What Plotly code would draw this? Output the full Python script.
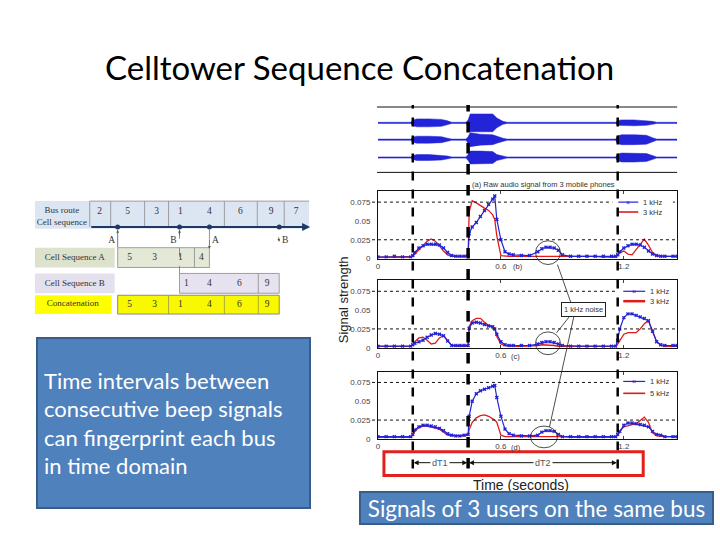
import plotly.graph_objects as go

W, H = 720, 540
def px(x): return x / W
def py(y): return 1 - y / H

# ---------------- data ----------------
time_s = [0.00, 0.04, 0.08, 0.12, 0.16,
          0.17, 0.18, 0.20, 0.22, 0.24, 0.26, 0.28, 0.30, 0.32, 0.34, 0.36, 0.38, 0.40, 0.42, 0.44,
          0.445, 0.46, 0.48, 0.50, 0.52, 0.54, 0.56, 0.57, 0.58, 0.60, 0.62, 0.64, 0.66,
          0.70, 0.74, 0.78, 0.80, 0.82, 0.84, 0.86, 0.88, 0.90, 0.94, 0.98, 1.02, 1.06, 1.10, 1.14, 1.16,
          1.17, 1.18, 1.20, 1.22, 1.24, 1.26, 1.28, 1.30, 1.32, 1.34, 1.36, 1.38, 1.40, 1.44, 1.46]

b_1khz = [0.002, 0.002, 0.003, 0.002, 0.002,
          0.004, 0.008, 0.014, 0.017, 0.019, 0.019, 0.019, 0.018, 0.014, 0.008, 0.004, 0.003, 0.003, 0.003, 0.004,
          0.033, 0.042, 0.048, 0.056, 0.064, 0.072, 0.079, 0.083, 0.052, 0.025, 0.009, 0.006, 0.005,
          0.004, 0.004, 0.009, 0.013, 0.015, 0.015, 0.014, 0.011, 0.005, 0.003, 0.003, 0.003, 0.003, 0.003, 0.003, 0.003,
          0.005, 0.009, 0.014, 0.017, 0.019, 0.019, 0.018, 0.015, 0.010, 0.006, 0.004, 0.003, 0.003, 0.003, 0.003]
b_3khz = [0.002, 0.002, 0.002, 0.002, 0.002,
          0.003, 0.006, 0.012, 0.018, 0.023, 0.026, 0.023, 0.017, 0.010, 0.005, 0.003, 0.003, 0.003, 0.003, 0.003,
          0.062, 0.077, 0.074, 0.070, 0.067, 0.064, 0.058, 0.052, 0.030, 0.004, 0.003, 0.003, 0.003,
          0.003, 0.003, 0.003, 0.004, 0.004, 0.004, 0.004, 0.003, 0.003, 0.003, 0.003, 0.003, 0.003, 0.002, 0.002, 0.002,
          0.004, 0.008, 0.010, 0.006, 0.005, 0.012, 0.020, 0.026, 0.018, 0.008, 0.004, 0.003, 0.003, 0.003, 0.003]
c_1khz = [0.002, 0.002, 0.002, 0.002, 0.002,
          0.004, 0.006, 0.008, 0.010, 0.014, 0.017, 0.019, 0.018, 0.016, 0.009, 0.003, 0.003, 0.003, 0.003, 0.003,
          0.026, 0.033, 0.034, 0.033, 0.031, 0.029, 0.028, 0.025, 0.018, 0.008, 0.004, 0.003, 0.003,
          0.003, 0.003, 0.005, 0.007, 0.008, 0.008, 0.007, 0.005, 0.003, 0.002, 0.002, 0.002, 0.002, 0.002, 0.002, 0.002,
          0.010, 0.025, 0.040, 0.045, 0.045, 0.043, 0.041, 0.039, 0.036, 0.022, 0.008, 0.004, 0.003, 0.003, 0.003]
c_3khz = [0.002, 0.002, 0.002, 0.002, 0.002,
          0.004, 0.008, 0.013, 0.014, 0.010, 0.005, 0.006, 0.013, 0.016, 0.010, 0.003, 0.002, 0.002, 0.002, 0.002,
          0.028, 0.036, 0.039, 0.039, 0.034, 0.030, 0.028, 0.026, 0.015, 0.005, 0.003, 0.002, 0.002,
          0.002, 0.002, 0.003, 0.004, 0.004, 0.004, 0.003, 0.002, 0.002, 0.002, 0.002, 0.002, 0.002, 0.002, 0.002, 0.002,
          0.005, 0.010, 0.018, 0.020, 0.020, 0.020, 0.025, 0.032, 0.036, 0.022, 0.008, 0.003, 0.002, 0.002, 0.002]
d_1khz = [0.003, 0.003, 0.003, 0.003, 0.003,
          0.006, 0.012, 0.016, 0.018, 0.018, 0.017, 0.016, 0.014, 0.011, 0.007, 0.005, 0.004, 0.004, 0.005, 0.006,
          0.030, 0.050, 0.060, 0.064, 0.066, 0.068, 0.070, 0.071, 0.055, 0.030, 0.013, 0.007, 0.005,
          0.004, 0.004, 0.005, 0.009, 0.011, 0.011, 0.010, 0.006, 0.003, 0.003, 0.003, 0.003, 0.003, 0.003, 0.003, 0.003,
          0.006, 0.010, 0.018, 0.021, 0.021, 0.020, 0.019, 0.018, 0.016, 0.010, 0.006, 0.005, 0.003, 0.003, 0.003]
d_5khz = [0.002, 0.002, 0.002, 0.002, 0.002,
          0.005, 0.010, 0.015, 0.017, 0.017, 0.016, 0.015, 0.013, 0.009, 0.005, 0.004, 0.004, 0.003, 0.004, 0.005,
          0.012, 0.022, 0.028, 0.031, 0.032, 0.030, 0.027, 0.025, 0.022, 0.005, 0.003, 0.003, 0.003,
          0.003, 0.003, 0.003, 0.004, 0.004, 0.004, 0.004, 0.003, 0.003, 0.002, 0.002, 0.002, 0.002, 0.002, 0.002, 0.002,
          0.005, 0.010, 0.016, 0.018, 0.019, 0.020, 0.024, 0.029, 0.022, 0.008, 0.004, 0.003, 0.003, 0.003, 0.003]

# raw audio envelopes (half amplitude) of 3 phones
env_t = [0.00, 0.16, 0.17, 0.19, 0.25, 0.31, 0.34, 0.36, 0.43, 0.44, 0.45, 0.50,
         0.56, 0.58, 0.61, 0.63, 1.16, 1.17, 1.19, 1.25, 1.31, 1.34, 1.36, 1.46]
phone1_env = [0.6, 0.6, 3.0, 4.0, 4.0, 3.5, 2.0, 0.6, 0.6, 3.0, 9.0, 9.0,
              9.0, 5.0, 1.5, 0.6, 0.6, 2.5, 3.0, 3.0, 2.5, 1.5, 0.6, 0.6]
phone2_env = [0.6, 0.6, 2.5, 3.5, 3.5, 3.0, 1.5, 0.6, 0.6, 3.0, 7.0, 5.5,
              5.0, 3.5, 1.5, 0.6, 0.6, 4.0, 5.0, 5.0, 4.5, 2.0, 0.6, 0.6]
phone3_env = [0.6, 0.6, 2.0, 3.0, 3.0, 2.5, 1.5, 0.6, 0.6, 3.0, 6.5, 6.5,
              6.0, 3.0, 1.5, 0.6, 0.6, 3.5, 4.5, 4.5, 4.0, 2.0, 0.6, 0.6]

beep_times = [0.17, 0.44, 1.17]
x_ticks = [0, 0.6, 1.2]
y_ticks = [0, 0.025, 0.05, 0.075]
y_tick_text = ['0', '0.025', '0.05', '0.075']

route_cells = ['2', '5', '3', '1', '4', '6', '9', '7']
seq_a = ['5', '3', '1', '4']
seq_b = ['1', '4', '6', '9']
concat = ['5', '3', '1', '4', '6', '9']
row_labels = ['Bus route<br>Cell sequence', 'Cell Sequence A', 'Cell Sequence B', 'Concatenation']
stop_labels = ['A', 'B', 'A', 'B']

# ---------------- layout helpers ----------------
BLUE = '#2323d8'
RED = '#e01b1b'
SERIF = 'Liberation Serif'
SANS = 'Liberation Sans'
SLIDE = 'Lato'

fig = go.Figure()
shapes = []
ann = []

def note(text, x, y, size, color='#333', family=SANS, xanchor='center', **kw):
    d = dict(text=text, x=px(x), y=py(y), xref='paper', yref='paper', showarrow=False,
             xanchor=xanchor, yanchor='middle', font=dict(family=family, size=size, color=color))
    d.update(kw)
    ann.append(d)

XD = [px(377), px(677)]
XR = [0, 1.46]

# panel a (raw audio)
centers = [50, 33, 15]
for env, c in zip([phone1_env, phone2_env, phone3_env], centers):
    xs = env_t + env_t[::-1]
    ys = [c + e for e in env] + [c - e for e in env[::-1]]
    fig.add_trace(go.Scatter(x=xs, y=ys, fill='toself', fillcolor=BLUE, mode='lines',
                             line=dict(color=BLUE, width=0.5), xaxis='x', yaxis='y',
                             showlegend=False, hoverinfo='skip'))
fig.update_layout(
    xaxis=dict(domain=XD, range=XR, visible=False, anchor='y'),
    yaxis=dict(domain=[py(174), py(108)], range=[0, 66], visible=False, anchor='x'),
)
for yy in [108, 174]:
    shapes.append(dict(type='line', xref='paper', yref='paper', x0=px(376), x1=px(677),
                       y0=py(yy), y1=py(yy), line=dict(color='#111', width=1)))
note('(a) Raw audio signal from 3 mobile phones', 543, 186, 7.5)

# panels b, c, d
panels = [
    (b_1khz, b_3khz, '3 kHz', '2', 193, 261, (612, 673, 197, 220, 618, 638, 204, 214, 641), '(b)', (517, 269)),
    (c_1khz, c_3khz, '3 kHz', '3', 283, 351, (617, 676, 287, 310, 623, 645, 294, 304, 648), '(c)', (515, 360)),
    (d_1khz, d_5khz, '5 kHz', '4', 375, 443, (617, 676, 379, 402, 623, 645, 385, 397, 648), '(d)', (515, 452)),
]
layout_axes = {}
for blue, red, red_name, k, top, bot, leg, lab, labpos in panels:
    xa, ya = 'x' + k, 'y' + k
    fig.add_trace(go.Scatter(x=time_s, y=red, mode='lines', line=dict(color=RED, width=1.3),
                             xaxis=xa, yaxis=ya, showlegend=False, hoverinfo='skip'))
    fig.add_trace(go.Scatter(x=time_s, y=blue, mode='lines+markers',
                             line=dict(color=BLUE, width=1.2),
                             marker=dict(symbol='x', size=3.5, color=BLUE),
                             xaxis=xa, yaxis=ya, showlegend=False, hoverinfo='skip'))
    layout_axes['xaxis' + k] = dict(domain=XD, range=XR, anchor=ya, tickvals=x_ticks,
                                    ticktext=['0', '0.6', '1.2'], ticks='inside', ticklen=3,
                                    showline=True, mirror='ticks', linecolor='#111', linewidth=1,
                                    showgrid=False, zeroline=False,
                                    tickfont=dict(family=SANS, size=8, color='#444'))
    layout_axes['yaxis' + k] = dict(domain=[py(bot), py(top)], range=[0, 0.0895], anchor=xa,
                                    tickvals=y_ticks, ticktext=y_tick_text, ticks='',
                                    showline=True, mirror=True, linecolor='#111', linewidth=1,
                                    showgrid=False, zeroline=False, ticklabelstandoff=5,
                                    tickfont=dict(family=SANS, size=8, color='#444'))
    for g in [0.025, 0.075]:
        shapes.append(dict(type='line', xref=xa + ' domain', yref=ya, x0=-0.02, x1=1, y0=g, y1=g,
                           line=dict(color='#111', width=1, dash='dot'), layer='above'))
    rx0, rx1, ry0, ry1, lx0, lx1, yb, yr, tx = leg
    shapes.append(dict(type='rect', xref='paper', yref='paper', x0=px(rx0), x1=px(rx1),
                       y0=py(ry1), y1=py(ry0), fillcolor='white', line=dict(width=0), layer='above'))
    shapes.append(dict(type='line', xref='paper', yref='paper', x0=px(lx0), x1=px(lx1),
                       y0=py(yb), y1=py(yb), line=dict(color=BLUE, width=1.2), layer='above'))
    shapes.append(dict(type='line', xref='paper', yref='paper', x0=px(lx0), x1=px(lx1),
                       y0=py(yr), y1=py(yr), line=dict(color=RED, width=1.6 if k != '3' else 2.5),
                       layer='above'))
    note('×', (lx0 + lx1) / 2, yb, 7, BLUE)
    note('1 kHz', tx, yb, 7.5, xanchor='left')
    note(red_name, tx, yr, 7.5, xanchor='left')
    note(lab, labpos[0], labpos[1], 7.5)
fig.update_layout(**layout_axes)

# dashed beep lines
for t, w in zip(beep_times, [2.5, 3.5, 2.5]):
    shapes.append(dict(type='line', xref='x4', yref='paper', x0=t, x1=t, y0=py(473), y1=py(106),
                       line=dict(color='#000', width=w, dash='dash'), layer='above'))

# noise circles and pointer
for (x0, y0, x1, y1) in [(535, 243, 560, 267), (535, 335, 560, 358), (530, 430, 557, 452)]:
    shapes.append(dict(type='circle', xref='paper', yref='paper', x0=px(x0), x1=px(x1),
                       y0=py(y1), y1=py(y0), line=dict(color='#222', width=0.8), layer='above'))
for (x0, y0, x1, y1) in [(557, 267, 571, 307), (571, 317, 556, 336), (574, 317, 549, 431)]:
    shapes.append(dict(type='line', xref='paper', yref='paper', x0=px(x0), x1=px(x1),
                       y0=py(y0), y1=py(y1), line=dict(color='#222', width=0.8), layer='above'))
note('1 kHz noise', 583, 312, 7.5, bgcolor='white', bordercolor='#222', borderwidth=1, borderpad=2)

# dT arrows
for a, b, lab, col in [(beep_times[0], beep_times[1], 'dT1', '#3b5b8f'),
                        (beep_times[1], beep_times[2], 'dT2', '#555')]:
    mid = (a + b) / 2
    for end in (a, b):
        ann.append(dict(text='', x=end + (0.004 if end == a else -0.004), y=py(467),
                        xref='x4', yref='paper', ax=mid, axref='x4', ay=0, ayref='pixel',
                        showarrow=True, arrowhead=2, arrowsize=1, arrowwidth=1, arrowcolor='#111'))
    ann.append(dict(text=lab, x=mid, y=py(467), xref='x4', yref='paper', showarrow=False,
                    xanchor='center', yanchor='middle',
                    bgcolor='white', font=dict(family=SANS, size=9, color=col)))
shapes.append(dict(type='rect', xref='paper', yref='paper', x0=px(383), x1=px(643),
                   y0=py(480), y1=py(456), line=dict(color='#e3211c', width=3), layer='above'))
note('Time (seconds)', 520, 490, 14, '#222')
note('Signal strength', 342, 303, 13, '#222', textangle=-90)

# ---------------- left diagram (axis in pixel-like units) ----------------
fig.update_layout(
    xaxis5=dict(domain=[px(30), px(312)], range=[30, 312], visible=False, anchor='y5'),
    yaxis5=dict(domain=[py(322), py(198)], range=[322, 198], visible=False, anchor='x5'),
)
D = dict(xref='x5', yref='y5')
def rect(x0, y0, x1, y1, fill, line='rgba(0,0,0,0)', lw=0.8):
    shapes.append(dict(type='rect', x0=x0, y0=y0, x1=x1, y1=y1, fillcolor=fill,
                       line=dict(color=line, width=lw), layer='below', **D))
def seg(x0, y0, x1, y1, color='#8a8a8a', w=0.8, dash='solid'):
    shapes.append(dict(type='line', x0=x0, y0=y0, x1=x1, y1=y1,
                       line=dict(color=color, width=w, dash=dash), layer='below', **D))

route_edges = [88, 109, 143, 167, 223, 256, 283]
rect(33, 203, 308, 231, '#dce6f2')
seg(88, 203, 308, 203)
for e in route_edges:
    seg(e, 203, e, 229)
rect(33, 250, 113, 270, '#dde2cd')
rect(116, 250, 208, 270, '#e4e8d7', '#8a8a8a')
seg(193, 250, 193, 270)
rect(33, 276, 113, 296, '#e5e0ed')
rect(178, 276, 278, 296, '#e7e2ef', '#8a8a8a')
seg(257, 276, 257, 296)
rect(33, 298, 110, 317, '#ffff00')
rect(116, 298, 278, 317, '#f8f800', '#707070')
for e in [167, 223, 257]:
    seg(e, 298, e, 317, '#9a9a40')
seg(178, 232, 178, 276, '#777', 0.8, 'dash')
seg(208, 232, 208, 250, '#777', 0.8, 'dash')

ann.append(dict(text='', x=309, y=229, ax=88, ay=229, axref='x5', ayref='y5', showarrow=True,
                arrowhead=2, arrowsize=0.8, arrowwidth=2, arrowcolor='#1f3864', **D))
for (x0, y0, x1, y1) in [(116, 251, 116, 232), (178, 239, 178, 232), (208, 240, 208, 251),
                         (277, 238, 278, 244)]:
    ann.append(dict(text='', x=x1, y=y1, ax=x0, ay=y0, axref='x5', ayref='y5', showarrow=True,
                    arrowhead=2, arrowsize=0.7, arrowwidth=0.8, arrowcolor='#555', **D))

tf = dict(family=SERIF, size=9.5, color='#333')
fig.add_trace(go.Scatter(x=[116, 178, 208, 278], y=[229] * 4, mode='markers',
                         marker=dict(size=5, color='#1f3864'), xaxis='x5', yaxis='y5',
                         showlegend=False, hoverinfo='skip'))
fig.add_trace(go.Scatter(x=[98, 126, 155, 179, 208, 239, 270, 295], y=[214] * 8, mode='text',
                         text=route_cells, textfont=tf, xaxis='x5', yaxis='y5',
                         showlegend=False, hoverinfo='skip'))
fig.add_trace(go.Scatter(x=[128, 153, 179, 200], y=[260] * 4, mode='text', text=seq_a,
                         textfont=tf, xaxis='x5', yaxis='y5', showlegend=False, hoverinfo='skip'))
fig.add_trace(go.Scatter(x=[185, 208, 238, 266], y=[286] * 4, mode='text', text=seq_b,
                         textfont=tf, xaxis='x5', yaxis='y5', showlegend=False, hoverinfo='skip'))
fig.add_trace(go.Scatter(x=[128, 153, 179, 208, 238, 266], y=[307] * 6, mode='text', text=concat,
                         textfont=tf, xaxis='x5', yaxis='y5', showlegend=False, hoverinfo='skip'))
fig.add_trace(go.Scatter(x=[60, 73, 73, 71], y=[219, 260, 286, 307], mode='text', text=row_labels,
                         textfont=dict(family=SERIF, size=9, color='#333'), xaxis='x5', yaxis='y5',
                         showlegend=False, hoverinfo='skip'))
fig.add_trace(go.Scatter(x=[110, 172, 214, 284], y=[243] * 4, mode='text', text=stop_labels,
                         textfont=tf, xaxis='x5', yaxis='y5', showlegend=False, hoverinfo='skip'))

# ---------------- slide text ----------------
note('Celltower Sequence Concatenation', 358, 68, 33, '#000', SLIDE)
note('Time intervals between<br>consecutive beep signals<br>can fingerprint each bus<br>in time domain',
     171.5, 427, 22, 'white', SLIDE, align='left', valign='middle', width=259, height=156,
     borderpad=6, bgcolor='#4f81bd', bordercolor='#385d8a', borderwidth=2)
note('Signals of 3 users on the same bus', 535.5, 513, 22.5, 'white', SLIDE,
     width=351, height=30, borderpad=0, bgcolor='#4f81bd', bordercolor='#385d8a', borderwidth=2)

fig.update_layout(width=W, height=H, margin=dict(l=0, r=0, t=0, b=0),
                  paper_bgcolor='white', plot_bgcolor='rgba(0,0,0,0)',
                  shapes=shapes, annotations=ann, showlegend=False)
fig.write_html('out.html', config={'displayModeBar': False},
               post_script=("document.documentElement.style.overflow='hidden';"
                            "document.body.style.margin='0';"
                            "document.body.style.overflow='hidden';"
                            "document.body.style.height='540px';"))
